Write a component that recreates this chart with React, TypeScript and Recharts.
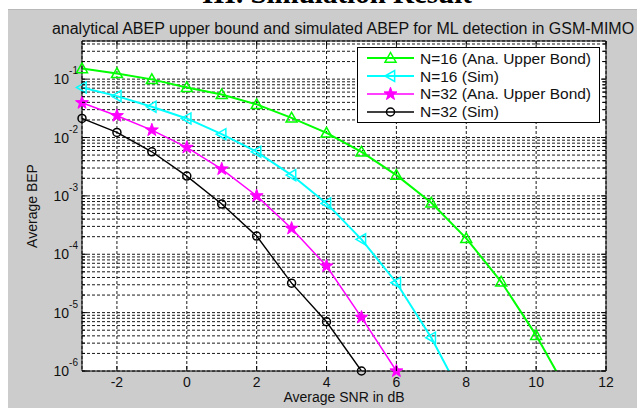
import React from 'react';
import {
  LineChart,
  Line,
  XAxis,
  YAxis,
  CartesianGrid,
  Legend,
  Label,
  ReferenceLine,
} from 'recharts';

// ---- layout ----
const W = 637;
const H = 408;
const MARGIN = { top: 41, right: 31, bottom: 0, left: 8 };
const Y_AXIS_W = 74;
const X_AXIS_H = 37;
const PLOT_W = W - MARGIN.left - MARGIN.right - Y_AXIS_W;
const FONT = '"Liberation Sans", Arial, Helvetica, sans-serif';
const TEXT = '#111';

// ---- data ----
const snrDb = [-3, -2, -1, 0, 1, 2, 3, 4, 5, 6, 7, 8, 9, 10, 11];
const anaUpperN16 = [
  0.152, 0.125, 0.099, 0.072, 0.0547, 0.0369, 0.0217, 0.012, 0.00569, 0.00227,
  7.6e-4, 1.87e-4, 3.38e-5, 4.08e-6, 3.5e-7,
];
const simN16 = [
  0.072, 0.0512, 0.0336, 0.0212, 0.0114, 0.00569, 0.00227, 7.43e-4, 1.8e-4,
  3.25e-5, 3.72e-6, 2.7e-7,
];
const anaUpperN32 = [
  0.0393, 0.0236, 0.0134, 0.00676, 0.00288, 0.001, 2.77e-4, 6.28e-5, 8.3e-6, 1e-6,
];
const simN32 = [
  0.0212, 0.0122, 0.00569, 0.00218, 7.24e-4, 2.05e-4, 3.2e-5, 6.98e-6, 1e-6,
];

const xTicks = [-2, 0, 2, 4, 6, 8, 10, 12];
const yDecades = [1e-6, 1e-5, 1e-4, 1e-3, 1e-2, 1e-1];
const yDecadeExp = [-6, -5, -4, -3, -2, -1];
const minorSteps = [2, 3, 4, 5, 6, 7, 8, 9];
const X_MIN = -3;
const X_MAX = 12;
const Y_MIN = 1e-6;
const Y_MAX = 0.45;

const yTicks = [
  ...yDecades,
  ...yDecades.flatMap((d) => minorSteps.map((m) => m * d)).filter((v) => v <= Y_MAX),
].sort((a, b) => a - b);

const rows = snrDb.map((snr, i) => ({
  snr,
  a16: anaUpperN16[i],
  s16: simN16[i],
  a32: anaUpperN32[i],
  s32: simN32[i],
}));

type MarkerKind = 'triUp' | 'triLeft' | 'star' | 'circle';
const series: { key: string; name: string; color: string; width: number; marker: MarkerKind }[] = [
  { key: 'a16', name: 'N=16 (Ana. Upper Bond)', color: '#00ff00', width: 2, marker: 'triUp' },
  { key: 's16', name: 'N=16 (Sim)', color: '#00ffff', width: 2, marker: 'triLeft' },
  { key: 'a32', name: 'N=32 (Ana. Upper Bond)', color: '#ff00ff', width: 1.5, marker: 'star' },
  { key: 's32', name: 'N=32 (Sim)', color: '#000000', width: 1.4, marker: 'circle' },
];

// ---- markers ----
function Marker({ kind, cx, cy, color }: { kind: MarkerKind; cx: number; cy: number; color: string }) {
  if (kind === 'triUp') {
    const s = 5.5;
    return (
      <polygon
        points={`${cx},${cy - s} ${cx + s},${cy + s * 0.75} ${cx - s},${cy + s * 0.75}`}
        fill="none"
        stroke={color}
        strokeWidth={1.5}
      />
    );
  }
  if (kind === 'triLeft') {
    const s = 5.5;
    return (
      <polygon
        points={`${cx - s},${cy} ${cx + s * 0.75},${cy - s} ${cx + s * 0.75},${cy + s}`}
        fill="none"
        stroke={color}
        strokeWidth={1.5}
      />
    );
  }
  if (kind === 'star') {
    const pts: string[] = [];
    for (let k = 0; k < 10; k++) {
      const r = k % 2 === 0 ? 6.8 : 2.7;
      const a = -Math.PI / 2 + (k * Math.PI) / 5;
      pts.push(`${cx + r * Math.cos(a)},${cy + r * Math.sin(a)}`);
    }
    return <polygon points={pts.join(' ')} fill={color} stroke={color} strokeWidth={1} />;
  }
  return <circle cx={cx} cy={cy} r={4} fill="none" stroke={color} strokeWidth={1.5} />;
}

// ---- axis ticks (MATLAB style: inward tick marks on all four sides) ----
const YTick = (props: any) => {
  const { x, y, payload } = props;
  const v = payload.value as number;
  const di = yDecades.indexOf(v);
  const major = di >= 0;
  const len = major ? 5 : 3;
  const right = x + PLOT_W;
  return (
    <g>
      <line x1={x} x2={x + len} y1={y} y2={y} stroke="#000" strokeWidth={1} />
      <line x1={right} x2={right - len} y1={y} y2={y} stroke="#000" strokeWidth={1} />
      {major && (
        <text x={x - 4} y={y + 5} textAnchor="end" fill={TEXT} fontFamily={FONT}>
          <tspan fontSize={14}>10</tspan>
          <tspan fontSize={10} dy={-10}>{String(yDecadeExp[di])}</tspan>
        </text>
      )}
    </g>
  );
};

const XTick = (props: any) => {
  const { x, y, payload } = props;
  return (
    <g>
      <line x1={x} x2={x} y1={y} y2={y - 5} stroke="#000" strokeWidth={1} />
      <line x1={x} x2={x} y1={MARGIN.top} y2={MARGIN.top + 5} stroke="#000" strokeWidth={1} />
      <text x={x} y={y + 16} textAnchor="middle" fill={TEXT} fontFamily={FONT} fontSize={14}>
        {String(payload.value)}
      </text>
    </g>
  );
};

// ---- legend ----
const LegendBox = () => (
  <div
    style={{
      width: 243,
      height: 76,
      boxSizing: 'border-box',
      background: '#fff',
      border: '1px solid #000',
      paddingTop: 1.5,
      fontFamily: FONT,
      fontSize: 15.5,
      color: TEXT,
    }}
  >
    {series.map((s) => (
      <div key={s.key} style={{ display: 'flex', alignItems: 'center', height: 17.8 }}>
        <svg width={62} height={18} style={{ display: 'block', flex: 'none' }}>
          <line x1={9} x2={56} y1={9} y2={9} stroke={s.color} strokeWidth={s.width} />
          <Marker kind={s.marker} cx={32.5} cy={9} color={s.color} />
        </svg>
        <span style={{ whiteSpace: 'nowrap', lineHeight: '17px' }}>{s.name}</span>
      </div>
    ))}
  </div>
);

const XLabel = (props: any) => {
  const { viewBox } = props;
  return (
    <text
      x={viewBox.x + viewBox.width / 2}
      y={viewBox.y + 31}
      textAnchor="middle"
      fill={TEXT}
      fontFamily={FONT}
      fontSize={14}
    >
      Average SNR in dB
    </text>
  );
};

const YLabel = (props: any) => {
  const { viewBox } = props;
  const cx = 37;
  const cy = viewBox.y + viewBox.height / 2;
  return (
    <text
      x={cx}
      y={cy}
      transform={`rotate(-90, ${cx}, ${cy})`}
      textAnchor="middle"
      fill={TEXT}
      fontFamily={FONT}
      fontSize={14}
    >
      Average BEP
    </text>
  );
};

export default function App() {
  return (
    <div style={{ position: 'absolute', left: 0, top: 0, width: W, height: H, background: '#fff', overflow: 'hidden' }}>
      <svg width={W} height={9} style={{ position: 'absolute', left: 0, top: 0 }}>
        <text x={337} y={3} textAnchor="middle" fontFamily='"Liberation Serif", "Times New Roman", serif' fontWeight="bold" fontSize={29} fill="#000">
          III. Simulation Result
        </text>
      </svg>
      <div style={{ position: 'absolute', left: 8, top: 9, right: 0, bottom: 0, background: '#cccccc', borderTop: '1px solid #b8b8b8' }} />
      <div
        style={{
          position: 'absolute',
          left: 43,
          width: 600,
          top: 20,
          textAlign: 'center',
          fontFamily: FONT,
          fontSize: 16,
          lineHeight: '18px',
          color: TEXT,
          whiteSpace: 'nowrap',
        }}
      >
        analytical ABEP upper bound and simulated ABEP for ML detection in GSM-MIMO
      </div>
      <div style={{ position: 'absolute', left: 0, top: 0 }}>
        <LineChart width={W} height={H} data={rows} margin={MARGIN}>
          <CartesianGrid stroke="#1a1a1a" strokeWidth={1} strokeDasharray="3 2" fill="#fff" fillOpacity={1} />
          <XAxis
            dataKey="snr"
            type="number"
            domain={[X_MIN, X_MAX]}
            ticks={xTicks}
            interval={0}
            height={X_AXIS_H}
            tickSize={0}
            tickMargin={0}
            tickLine={false}
            axisLine={{ stroke: '#000' }}
            tick={<XTick />}
          >
            <Label content={<XLabel />} />
          </XAxis>
          <YAxis
            scale="log"
            type="number"
            domain={[Y_MIN, Y_MAX]}
            allowDataOverflow
            ticks={yTicks}
            interval={0}
            width={Y_AXIS_W}
            tickSize={0}
            tickMargin={0}
            tickLine={false}
            axisLine={{ stroke: '#000' }}
            tick={<YTick />}
          >
            <Label content={<YLabel />} />
          </YAxis>
          <YAxis yAxisId="m" hide scale="log" type="number" domain={[Y_MIN, Y_MAX]} ticks={yTicks} />
          {series.map((s) => (
            <Line
              key={s.key}
              dataKey={s.key}
              name={s.name}
              stroke={s.color}
              strokeWidth={s.width}
              dot={false}
              activeDot={false}
              isAnimationActive={false}
              connectNulls={false}
              legendType="none"
            />
          ))}
          {series.map((s) => (
            <Line
              key={`m-${s.key}`}
              yAxisId="m"
              dataKey={(row: any) => (row[s.key] != null && row[s.key] >= Y_MIN ? row[s.key] : undefined)}
              stroke="none"
              activeDot={false}
              isAnimationActive={false}
              legendType="none"
              dot={(p: any) =>
                p.cx == null || p.cy == null || !Number.isFinite(p.cy) ? (
                  <g key={`d-${s.key}-${p.index}`} />
                ) : (
                  <g key={`d-${s.key}-${p.index}`}>
                    <Marker kind={s.marker} cx={p.cx} cy={p.cy} color={s.color} />
                  </g>
                )
              }
            />
          ))}
          <ReferenceLine y={Y_MAX} stroke="#000" strokeWidth={1} />
          <ReferenceLine x={X_MAX} stroke="#000" strokeWidth={1} />
          <Legend
            layout="vertical"
            align="center"
            verticalAlign="middle"
            wrapperStyle={{ left: 357, top: 47, width: 243, height: 76 }}
            content={() => <LegendBox />}
          />
        </LineChart>
      </div>
    </div>
  );
}
